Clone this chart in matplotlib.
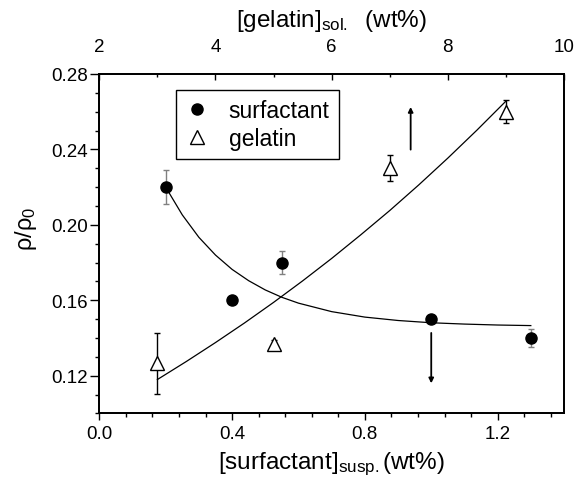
import matplotlib
matplotlib.use("Agg")
import matplotlib.pyplot as plt
from matplotlib.lines import Line2D
from matplotlib.ticker import MultipleLocator

plt.rcParams['font.family'] = ['Liberation Sans', 'DejaVu Sans']
plt.rcParams['mathtext.fontset'] = 'custom'
plt.rcParams['mathtext.rm'] = 'Liberation Sans'
plt.rcParams['mathtext.it'] = 'Liberation Sans:italic'

# surfactant series (bottom axis)
surf_x = [0.2, 0.4, 0.55, 1.0, 1.3]
surf_y = [0.220, 0.160, 0.180, 0.150, 0.140]
surf_err = [0.009, 0.0, 0.006, 0.0, 0.005]

# gelatin series (top axis)
gel_x = [3.0, 5.0, 7.0, 9.0]
gel_y = [0.1265, 0.137, 0.230, 0.260]
gel_err = [0.016, 0.002, 0.007, 0.006]

# fitted curves
surf_fit_x = [0.20, 0.25, 0.30, 0.35, 0.40, 0.45, 0.50, 0.55, 0.60, 0.70, 0.80,
              0.90, 1.00, 1.10, 1.20, 1.30]
surf_fit_y = [0.2200, 0.2053, 0.1934, 0.1840, 0.1764, 0.1704, 0.1655, 0.1616,
              0.1585, 0.1540, 0.1511, 0.1493, 0.1481, 0.1474, 0.1469, 0.1466]
gel_fit_x = [3.0, 3.5, 4.0, 4.5, 5.0, 5.5, 6.0, 6.5, 7.0, 7.5, 8.0, 8.5, 9.0]
gel_fit_y = [0.1180, 0.1276, 0.1376, 0.1480, 0.1589, 0.1703, 0.1822, 0.1947,
             0.2076, 0.2212, 0.2354, 0.2502, 0.2656]

fig = plt.figure(figsize=(5.78, 4.85), dpi=100)
ax = fig.add_axes([0.1718, 0.1454, 0.804, 0.7000])
ax2 = ax.twiny()

ax.plot(surf_fit_x, surf_fit_y, color='k', lw=0.9)
ax.errorbar(surf_x, surf_y, yerr=surf_err, fmt='o', color='k', ms=8,
            ecolor='#808080', elinewidth=1.0, capsize=2.5, capthick=1.0, zorder=3)

ax2.plot(gel_fit_x, gel_fit_y, color='k', lw=0.9)
ax2.errorbar(gel_x, gel_y, yerr=gel_err, fmt='^', mfc='white', mec='k', mew=1.0,
             ms=10, ecolor='k', elinewidth=1.0, capsize=2.5, capthick=1.0, zorder=3)

# arrows showing which axis each series belongs to
ax.annotate('', xy=(0.938, 0.2625), xytext=(0.938, 0.2399),
            arrowprops=dict(arrowstyle='-|>', color='k', lw=1.3, mutation_scale=7,
                            shrinkA=0, shrinkB=0))
ax.annotate('', xy=(1.0, 0.1160), xytext=(1.0, 0.1427),
            arrowprops=dict(arrowstyle='-|>', color='k', lw=1.3, mutation_scale=7,
                            shrinkA=0, shrinkB=0))

ax.set_xlim(0.0, 1.4)
ax.set_ylim(0.10, 0.28)
ax2.set_xlim(2, 10)

ax.xaxis.set_major_locator(MultipleLocator(0.4))
ax.xaxis.set_minor_locator(MultipleLocator(0.08))
ax.yaxis.set_major_locator(MultipleLocator(0.04))
ax.yaxis.set_minor_locator(MultipleLocator(0.01))
ax2.xaxis.set_major_locator(MultipleLocator(2))
ax2.xaxis.set_minor_locator(MultipleLocator(1))

ax.set_xticks([0.0, 0.4, 0.8, 1.2])
ax.set_xticklabels(['0.0', '0.4', '0.8', '1.2'])
ax.set_yticks([0.12, 0.16, 0.20, 0.24, 0.28])
ax.set_yticklabels(['0.12', '0.16', '0.20', '0.24', '0.28'])

ax.tick_params(axis='x', which='major', direction='out', length=5, width=1.0,
               labelsize=13.5, pad=3)
ax.tick_params(axis='x', which='minor', direction='out', length=3, width=1.0)
ax.tick_params(axis='y', which='major', direction='out', length=6.5, width=1.0,
               labelsize=13.5, pad=1.5)
ax.tick_params(axis='y', which='minor', direction='out', length=3.2, width=1.0)
ax.tick_params(right=False, top=False)
ax2.tick_params(axis='x', which='major', direction='in', length=4, width=1.0,
                labelsize=13.5, pad=14)
ax2.tick_params(axis='x', which='minor', direction='in', length=2.5, width=1.0)

for a in (ax, ax2):
    for s in a.spines.values():
        s.set_linewidth(1.3)

ax.set_xlabel('[surfactant]$_{\\mathrm{susp.}}$(wt%)', fontsize=17.5)
ax.xaxis.set_label_coords(0.5, -0.105)
ax.set_ylabel('ρ/ρ$_{\\mathrm{0}}$', fontsize=17)
ax.yaxis.set_label_coords(-0.13, 0.546)
ax2.set_xlabel('[gelatin]$_{\\mathrm{sol.}}$  (wt%)', fontsize=17.5)
ax2.xaxis.set_label_coords(0.5, 1.14)

handles = [Line2D([], [], marker='o', ls='none', color='k', ms=8),
           Line2D([], [], marker='^', ls='none', mfc='white', mec='k', mew=1.0, ms=10)]
leg = ax.legend(handles, ['surfactant', 'gelatin'], loc='upper left',
                bbox_to_anchor=(0.164, 0.954), borderaxespad=0, fontsize=16.5,
                fancybox=False, framealpha=1, edgecolor='k', handletextpad=0.9,
                labelspacing=0.2, borderpad=0.42, handlelength=1.0)
leg.get_frame().set_linewidth(1.0)

fig.savefig('out.png', dpi=100)
